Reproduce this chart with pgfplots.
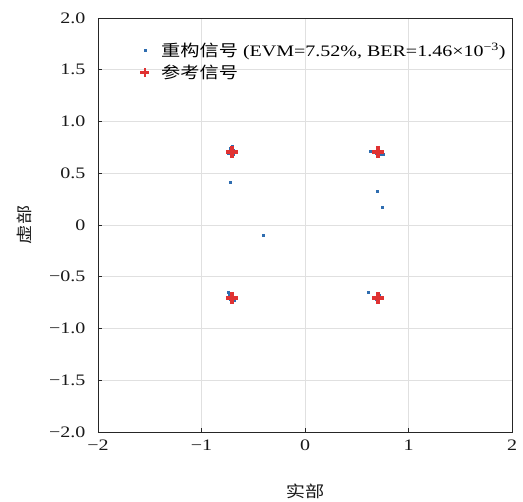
\documentclass[border=0pt]{standalone}
\usepackage{fontspec}
\setmainfont[FakeStretch=1.25]{Liberation Serif}
\newfontfamily\cjk[FakeStretch=1.2]{Noto Sans CJK SC}
\usepackage{pgfplots}
\pgfplotsset{compat=1.18}
\definecolor{ptblue}{HTML}{2F6DB0}
\definecolor{ptred}{HTML}{E03232}
\definecolor{gridgray}{HTML}{E0E0E0}
\begin{document}
\begin{tikzpicture}
\begin{axis}[
  scale only axis,
  width=414pt, height=414pt,
  xmin=-2, xmax=2, ymin=-2, ymax=2,
  xtick={-2,-1,0,1,2},
  xticklabels={−2,−1,0,1,2},
  ytick={-2,-1.5,-1,-0.5,0,0.5,1,1.5,2},
  yticklabels={−2.0,−1.5,−1.0,−0.5,0,0.5,1.0,1.5,2.0},
  tick align=inside, tick pos=left,
  major tick length=4pt,
  grid=major,
  grid style={gridgray, line width=0.8pt},
  axis line style={black!85, line width=0.8pt},
  tick style={black!85, line width=0.8pt},
  ticklabel style={font=\fontsize{16}{19}\selectfont, text=black!90},
  yticklabel style={xshift=-9pt},
  xticklabel style={yshift=-4pt},
  xlabel={\cjk 实部},
  ylabel={\cjk 虚部},
  label style={font=\fontsize{16}{19}\selectfont, text=black!90},
  xlabel style={at={(axis description cs:0.5,-0.1425)}, anchor=center},
  ylabel style={at={(axis description cs:-0.179,0.5)}, anchor=center},
  legend style={at={(axis description cs:0.081,0.95)}, anchor=north west,
    draw=none, fill=none, font=\fontsize{16}{19}\selectfont,
    row sep=3pt, cells={anchor=west}},
  legend cell align=left,
]
\coordinate (sw) at (rel axis cs:0,0);
\coordinate (ne) at (rel axis cs:1,1);
\addplot[only marks, mark=square*, mark size=1pt, ptblue,
  legend image code/.code={\path (0pt,0pt) (21pt,0pt); \fill[ptblue] (7.7pt,-0.8pt) rectangle (9.3pt,0.8pt);}] coordinates {
(-0.70,0.76) (-0.72,0.74) (-0.69,0.72) (-0.73,0.70) (-0.71,0.68) (-0.68,0.70)
(-0.72,0.71) (-0.70,0.73) (-0.74,0.69) (-0.69,0.68)
(-0.72,0.41) (-0.40,-0.10)
(0.63,0.71) (0.76,0.68) (0.70,0.72) (0.72,0.70) (0.69,0.69) (0.74,0.71)
(0.71,0.73) (0.68,0.70) (0.73,0.68)
(0.70,0.33) (0.75,0.17)
(-0.74,-0.65) (-0.73,-0.68) (-0.70,-0.70) (-0.72,-0.72) (-0.69,-0.71)
(-0.71,-0.69) (-0.68,-0.73) (-0.73,-0.71) (-0.70,-0.74)
(0.61,-0.645) (0.70,-0.655) (0.71,-0.69) (0.73,-0.71) (0.69,-0.72)
(0.72,-0.68) (0.70,-0.74) (0.74,-0.70) (0.68,-0.70)
};
\addlegendentry{{\cjk 重构信号} (EVM=7.52\%, BER=1.46×10\textsuperscript{−3})}
\addplot[only marks, mark=+, mark size=6pt, ptred, line width=3.5pt,
  legend image code/.code={\path (0pt,0pt) (21pt,0pt); \draw[ptred, line width=2.8pt] (4pt,0pt) -- (13pt,0pt) (8.5pt,-4.5pt) -- (8.5pt,4.5pt);}] coordinates {
(-0.707,0.707) (0.707,0.707) (-0.707,-0.707) (0.707,-0.707)
};
\addlegendentry{\cjk 参考信号}
\end{axis}
\path ([xshift=-98pt,yshift=-68pt]sw) rectangle ([xshift=11pt,yshift=18pt]ne);
\end{tikzpicture}
\end{document}
